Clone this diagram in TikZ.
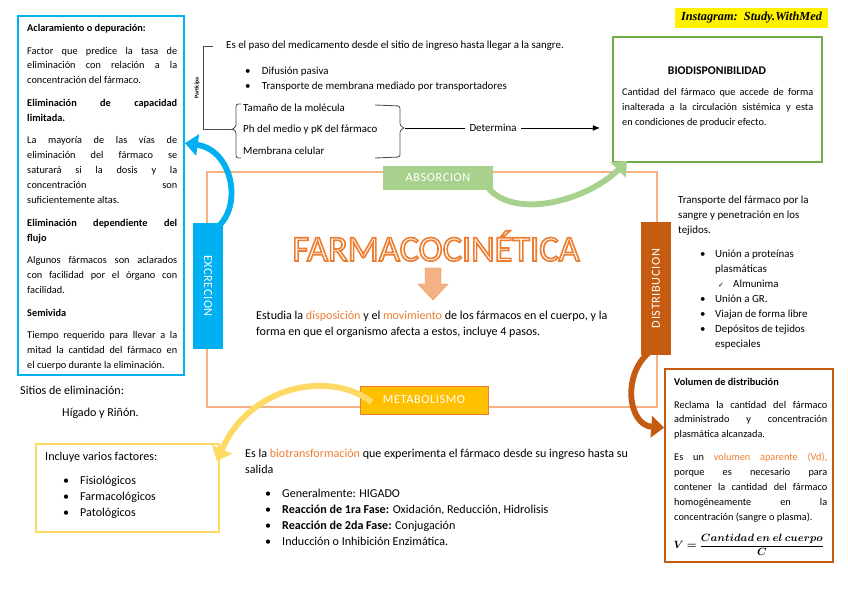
\documentclass[tikz,border=0pt]{standalone}
\usepackage{fontspec}
\setmainfont{Carlito}
\newfontfamily\symfont{DejaVu Sans}
\newfontfamily\instafont{Liberation Serif}
\usepackage{amsmath,bm}
\usetikzlibrary{positioning,arrows.meta,fit,calc}

\definecolor{azulexc}{HTML}{00B0F0}
\definecolor{verdeabs}{HTML}{A9D18E}
\definecolor{verdebio}{HTML}{70AD47}
\definecolor{naranjamarco}{HTML}{F4B183}
\definecolor{naranjatxt}{HTML}{ED7D31}
\definecolor{cafedist}{HTML}{C55A11}
\definecolor{oromet}{HTML}{FFC000}
\definecolor{amarillofac}{HTML}{FFD966}

\newcommand{\vineta}[2]{\hspace*{#1}\makebox[#2][l]{\textbullet}}
% letras con contorno (modo de dibujo 2: relleno + trazo)
\newcommand{\contorno}[1]{\special{pdf:code q 2 Tr 1.4 w 0.929 0.490 0.192 RG}#1\special{pdf:code Q}}

\begin{document}
\begin{tikzpicture}[x=0.03cm, y=-0.03cm,
    every node/.style={inner sep=0pt},
    marco/.style={draw, line width=1.5pt},
    etapa/.style={text=white, font=\fontsize{10.5}{12}\selectfont\addfontfeature{LetterSpace=5}},
    cinta/.style={line width=5pt, -{Triangle[width=18pt,length=11pt]}},
    chico/.style={font=\fontsize{8.8}{12.75}\selectfont},
    suelto/.style={font=\fontsize{9.3}{12.75}\selectfont},
    medio/.style={font=\fontsize{10.3}{13.6}\selectfont}]
    \useasboundingbox (0,0) rectangle (848,599);

    % excrecion
    \node (excmarco) [marco, draw=azulexc, fit={(18,16) (184,375)}] {};
    \node (exctexto) [chico, anchor=north west, text width=4.5cm, align=justify] at (27,24) {%
      \textbf{Aclaramiento o depuración:}\par\vspace{6.5pt}
      Factor que predice la tasa de\linebreak eliminación con relación a la\linebreak concentración del fármaco.\par\vspace{6.5pt}
      \textbf{Eliminación de capacidad\linebreak limitada.}\par\vspace{6.5pt}
      La mayoría de las vías de\linebreak eliminación del fármaco se\linebreak saturará si la dosis y la\linebreak concentración son\linebreak suficientemente altas.\par\vspace{6.5pt}
      \textbf{Eliminación dependiente del\linebreak flujo}\par\vspace{6.5pt}
      Algunos fármacos son aclarados\linebreak con facilidad por el órgano con\linebreak facilidad.\par\vspace{6.5pt}
      \textbf{Semivida}\par\vspace{6.5pt}
      Tiempo requerido para llevar a la\linebreak mitad la cantidad del fármaco en\linebreak el cuerpo durante la eliminación.};
    \node (sitios) [medio, anchor=base west] at (20,394) {Sitios de eliminación:};
    \node (higado) [medio, anchor=base west] at (62,416) {Hígado y Riñón.};

    % absorcion
    \node (participa) [rotate=90, font=\fontsize{5}{6}\selectfont\bfseries] at (197,88) {Participa};
    \draw[black!70, line width=0.7pt] (213,46) -- (203,46) -- (203,129) -- (233,129);
    \node (paso) [suelto, anchor=west] at (226,46) {Es el paso del medicamento desde el sitio de ingreso hasta llegar a la sangre.};
    \node (mecanismos) [suelto, anchor=north west, align=left] at (245,67) {%
      \vineta{0cm}{0.5cm}Difusión pasiva\\
      \vineta{0cm}{0.5cm}Transporte de membrana mediado por transportadores};
    \draw[black!70, line width=0.7pt, rounded corners=2pt] (241,104) -- (236,104) -- (236,127) -- (232,129) -- (236,131) -- (236,158) -- (241,158);
    \node (tamano) [suelto, anchor=west] at (243,108) {Tamaño de la molécula};
    \node (ph) [suelto, anchor=west] at (243,130) {Ph del medio y pK del fármaco};
    \node (membrana) [suelto, anchor=west] at (243,151) {Membrana celular};
    \draw[black!70, line width=0.7pt, rounded corners=2pt] (375,105) -- (400,106) -- (400,126) -- (405,128) -- (400,130) -- (400,157) -- (375,158);
    \coordinate (llave) at (405,128);
    \coordinate (biopunta) at (600,128);
    \node (determina) [suelto, inner xsep=4pt] at (493,128) {Determina};
    \draw[line width=0.7pt] (llave) -- (determina);
    \draw[line width=0.7pt, -{Latex[length=6pt,width=5pt]}] (determina) -- (biopunta);

    \node (insta) [fill=yellow, minimum width=4.59cm, minimum height=0.6cm, font=\instafont\bfseries\itshape\fontsize{10.5}{12}\selectfont] at (751.5,18) {Instagram:\ \ Study.WithMed};
    \node (biomarco) [marco, draw=verdebio, fit={(613,37) (822,162)}] {};
    \node (biotitulo) [chico, font=\bfseries] at (717,71) {BIODISPONIBILIDAD};
    \node (biotexto) [chico, anchor=north west, text width=5.73cm, align=justify] at (622,88) {%
      Cantidad del fármaco que accede de forma\linebreak inalterada a la circulación sistémica y esta\linebreak en condiciones de producir efecto.};

    % centro
    \node (marcocentral) [draw=naranjamarco, line width=1.2pt, fit={(207,172) (657,407)}] {};
    \node (titulo) [font=\fontsize{31}{33}\selectfont, text=white] at (436,246) {\contorno{FARMACOCINÉTICA}};
    \draw[fill=naranjamarco, draw=naranjatxt!80] (425,268) -- (441,268) -- (441,284) -- (448,284) -- (433,300) -- (418,284) -- (425,284) -- cycle;
    \node (estudia) [medio, anchor=north west, align=left] at (256,311) {%
      Estudia la \textcolor{naranjatxt}{disposición} y el \textcolor{naranjatxt}{movimiento} de los fármacos en el cuerpo, y la\\
      forma en que el organismo afecta a estos, incluye 4 pasos.};

    % distribucion
    \node (distexto) [suelto, anchor=north west, align=left] at (678,196) {%
      Transporte del fármaco por la\\ sangre y penetración en los\\ tejidos.};
    \node (dislista) [suelto, anchor=north west, align=left] at (678,250) {%
      \vineta{0.66cm}{0.45cm}Unión a proteínas\\
      \hspace*{1.11cm}plasmáticas\\
      \hspace*{1.2cm}\makebox[0.45cm][l]{\symfont\fontsize{6}{7}\selectfont ✓}Almunima\\
      \vineta{0.66cm}{0.45cm}Unión a GR.\\
      \vineta{0.66cm}{0.45cm}Viajan de forma libre\\
      \vineta{0.66cm}{0.45cm}Depósitos de tejidos\\
      \hspace*{1.11cm}especiales};
    \node (volmarco) [marco, draw=cafedist, fit={(665,369) (833,562)}] {};
    \node (voltexto) [chico, anchor=north west, text width=4.59cm, align=justify] at (674,378) {%
      \textbf{Volumen de distribución}\par\vspace{6.5pt}
      Reclama la cantidad del fármaco\linebreak administrado y concentración\linebreak plasmática alcanzada.\par\vspace{6.5pt}
      Es un \textcolor{naranjatxt}{volumen aparente (Vd),}\linebreak porque es necesario para\linebreak contener la cantidad del fármaco\linebreak homogéneamente en la\linebreak concentración (sangre o plasma).};
    \node (formula) [font=\fontsize{9}{11}\selectfont] at (749,545) {$\bm{V=\dfrac{Cantidad\ en\ el\ cuerpo}{C}}$};

    % metabolismo
    \node (facmarco) [marco, draw=amarillofac, fit={(36,444) (219,532)}] {};
    \node (factexto) [medio, anchor=north west, align=left] at (45,452) {%
      Incluye varios factores:\\[7pt]
      \vineta{0.54cm}{0.51cm}Fisiológicos\\
      \vineta{0.54cm}{0.51cm}Farmacológicos\\
      \vineta{0.54cm}{0.51cm}Patológicos};
    \node (mettexto) [medio, anchor=north west, align=left] at (245,449) {%
      Es la \textcolor{naranjatxt}{biotransformación} que experimenta el fármaco desde su ingreso hasta su\\
      salida\\[7pt]
      \vineta{0.6cm}{0.51cm}Generalmente: HIGADO\\
      \vineta{0.6cm}{0.51cm}\textbf{Reacción de 1ra Fase:} Oxidación, Reducción, Hidrolisis\\
      \vineta{0.6cm}{0.51cm}\textbf{Reacción de 2da Fase:} Conjugación\\
      \vineta{0.6cm}{0.51cm}Inducción o Inhibición Enzimática.};

    % etapas y cintas
    \node (absorcion) [etapa, fill=verdeabs, minimum width=3.3cm, minimum height=0.72cm] at (438,178) {ABSORCION};
    \node (excrecion) [etapa, fill=azulexc, rotate=-90, minimum width=3.78cm, minimum height=0.9cm] at (208,286) {EXCRECION};
    \node (distribucion) [etapa, fill=cafedist, rotate=90, minimum width=3.99cm, minimum height=0.9cm] at (656,288.5) {DISTRIBUCION};
    \node (metabolismo) [etapa, fill=oromet, draw=naranjatxt, line width=0.6pt, minimum width=3.84cm, minimum height=0.84cm] at (424,400) {METABOLISMO};

    \draw[cinta, color=verdeabs] ($(absorcion.east)+(-8,6)$) .. controls +(25,38) and +(-40,40) .. ($(biomarco.south west)+(15,-2)$);
    \draw[cinta, color=azulexc] ($(excrecion.center)+(2,-54)$) .. controls (245,215) and (235,150) .. ($(excmarco.north east)!0.355!(excmarco.south east)$);
    \draw[cinta, color=cafedist] ($(distribucion.center)+(-7,64)$) .. controls (622,375) and (628,425) .. ($(volmarco.north west)!0.306!(volmarco.south west)$);
    \draw[cinta, color=amarillofac] ($(metabolismo.west)+(12,2)$) .. controls (330,370) and (250,385) .. ($(facmarco.north east)+(-3,18)$);
  \end{tikzpicture}
\end{document}
